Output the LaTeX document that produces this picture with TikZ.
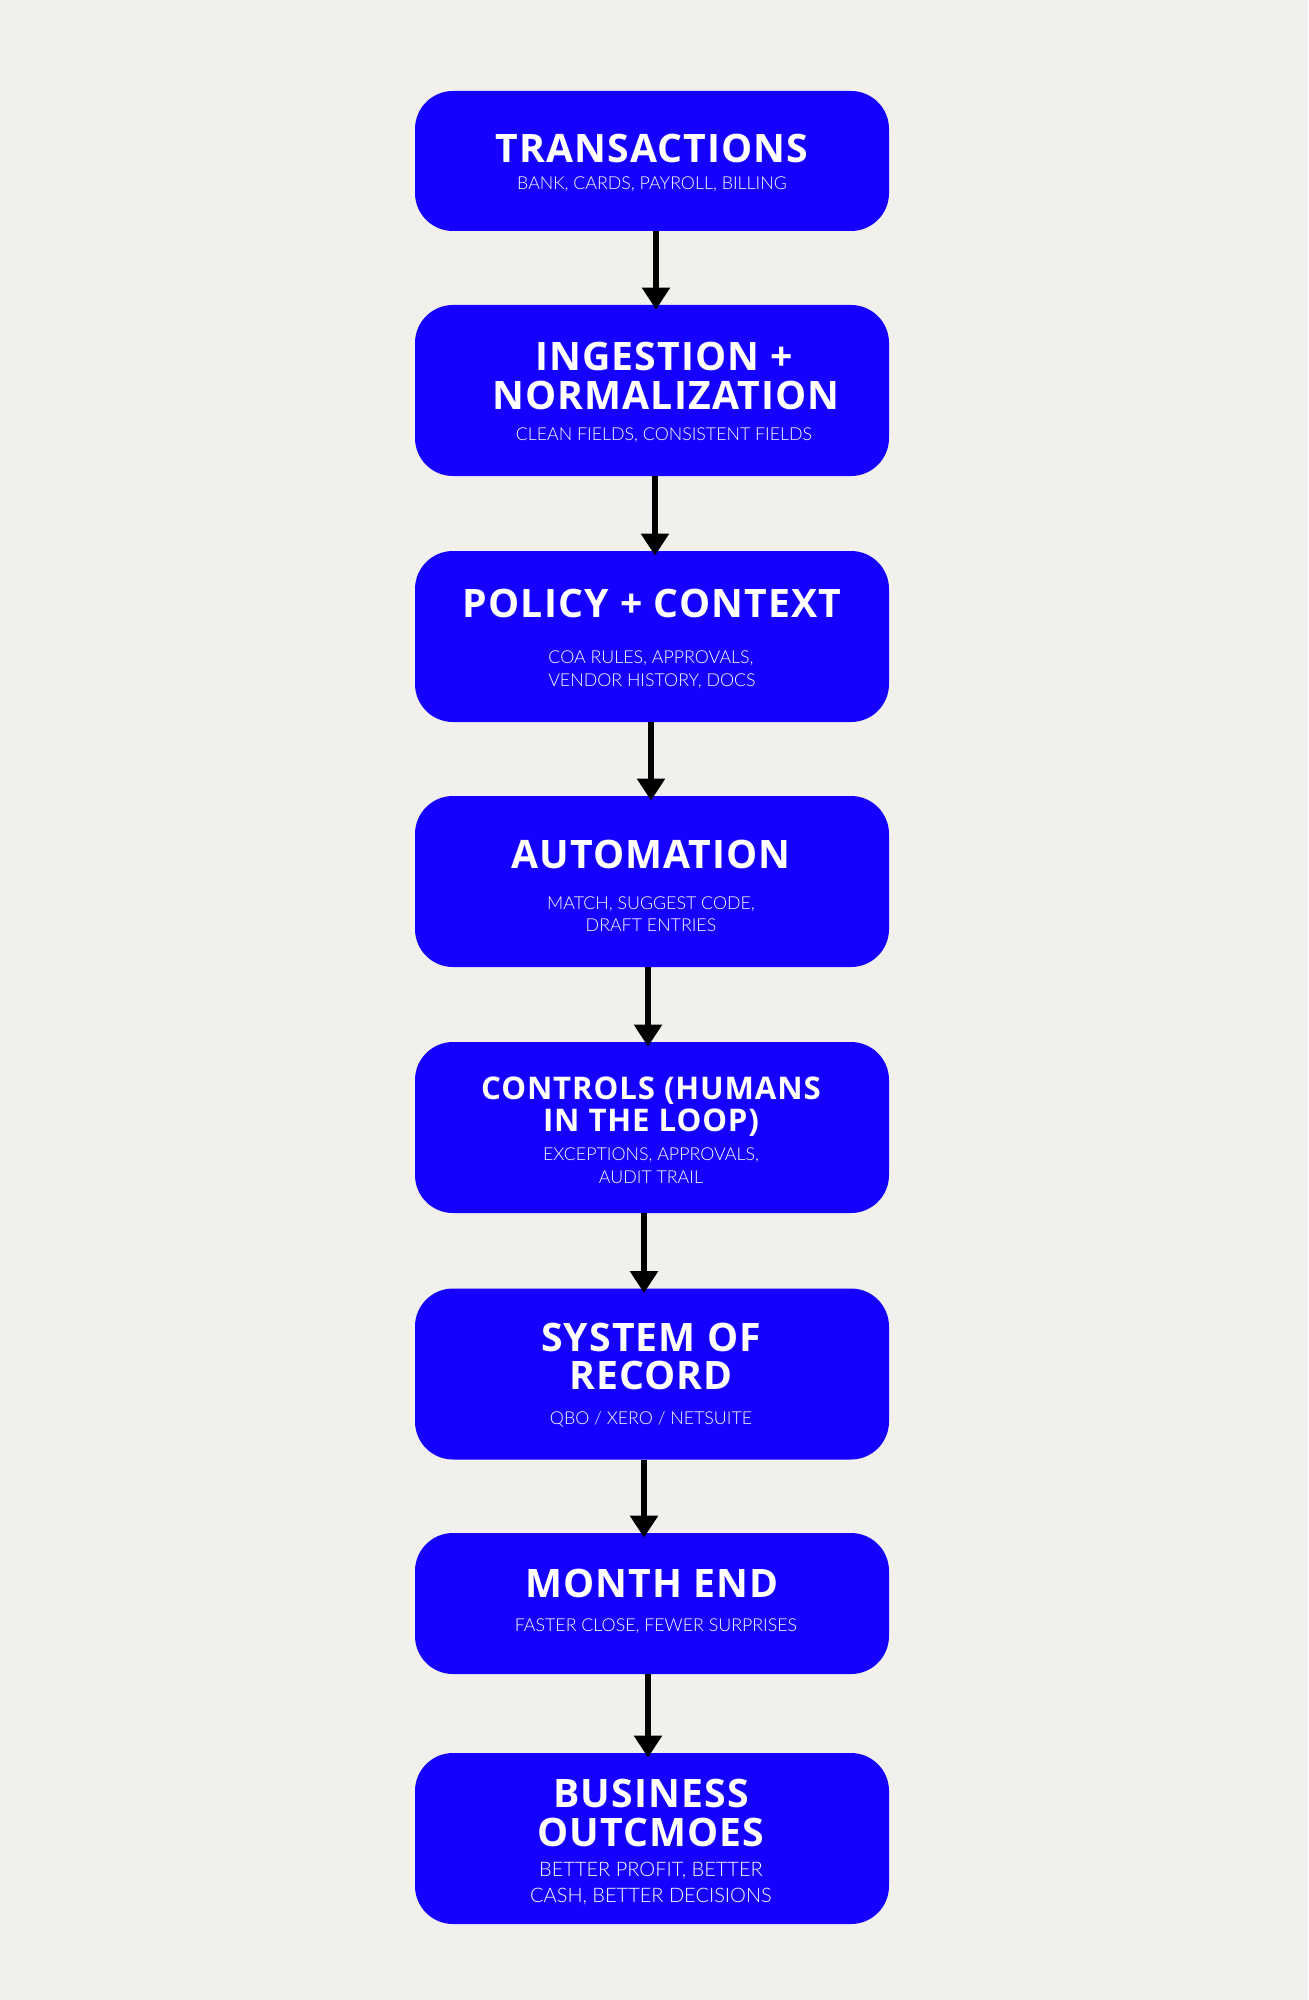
\documentclass[tikz,border=0pt]{standalone}
\usepackage{fontspec}
\usetikzlibrary{arrows.meta}
\newfontfamily\titlefont{Open Sans}[LetterSpace=2.8]
\newfontfamily\subfont{Lato Light}
\definecolor{bg}{HTML}{F1F0EC}
\definecolor{boxblue}{HTML}{1500FF}
\tikzset{
  stepbox/.style={draw=none, fill=boxblue, rounded corners=19pt, minimum width=237pt, inner sep=0pt, shape=rectangle},
  ttl/.style={anchor=base, inner sep=0pt, text=white, font=\titlefont\bfseries\fontsize{19.6}{20}\selectfont},
  ttlsm/.style={anchor=base, inner sep=0pt, text=white, font=\titlefont\bfseries\fontsize{15.6}{16}\selectfont},
  sub/.style={anchor=base, inner sep=0pt, text=white, font=\subfont\fontsize{8.9}{10}\selectfont},
  sublg/.style={anchor=base, inner sep=0pt, text=white, font=\subfont\fontsize{10}{11}\selectfont},
  arr/.style={line width=2.8pt, -{Triangle[width=13.5pt,length=11pt]}, shorten >=-2.5pt}
}
\begin{document}
\begin{tikzpicture}[x=0.5pt,y=-0.5pt]
\fill[bg] (0,0) rectangle (1308,2000);
\useasboundingbox (0,0) rectangle (1308,2000);
% boxes
\node[stepbox, minimum height=70pt]   (b1) at (652,161) {};
\node[stepbox, minimum height=85.5pt] (b2) at (652,390.5) {};
\node[stepbox, minimum height=85.5pt] (b3) at (652,636.5) {};
\node[stepbox, minimum height=85.5pt] (b4) at (652,881.5) {};
\node[stepbox, minimum height=85.5pt] (b5) at (652,1127.5) {};
\node[stepbox, minimum height=85.5pt] (b6) at (652,1374) {};
\node[stepbox, minimum height=70.5pt] (b7) at (652,1603.5) {};
\node[stepbox, minimum height=85.5pt] (b8) at (652,1838.5) {};
% texts
\node[ttl] (t1) at (652,163) {TRANSACTIONS};
\node[sub] (s1) at (652,190) {BANK, CARDS, PAYROLL, BILLING};
\node[ttl] (t2a) at (664,371) {INGESTION +};
\node[ttl] (t2b) at (666,410) {NORMALIZATION};
\node[sub] (s2) at (664,441) {CLEAN FIELDS, CONSISTENT FIELDS};
\node[ttl] (t3) at (652,617) {POLICY + CONTEXT};
\node[sub] (s3a) at (651,663) {COA RULES, APPROVALS,};
\node[sub] (s3b) at (652,686) {VENDOR HISTORY, DOCS};
\node[ttl] (t4) at (651,868) {AUTOMATION};
\node[sub] (s4a) at (651,909) {MATCH, SUGGEST CODE,};
\node[sub] (s4b) at (651,931) {DRAFT ENTRIES};
\node[ttlsm] (t5a) at (651,1099) {CONTROLS (HUMANS};
\node[ttlsm] (t5b) at (651,1131) {IN THE LOOP)};
\node[sub] (s5a) at (651,1160) {EXCEPTIONS, APPROVALS,};
\node[sub] (s5b) at (651,1183) {AUDIT TRAIL};
\node[ttl] (t6a) at (651,1351) {SYSTEM OF};
\node[ttl] (t6b) at (651,1389) {RECORD};
\node[sub] (s6) at (651,1424) {QBO / XERO / NETSUITE};
\node[ttl] (t7) at (652,1597) {MONTH END};
\node[sub] (s7) at (656,1631) {FASTER CLOSE, FEWER SURPRISES};
\node[ttl] (t8a) at (651,1807) {BUSINESS};
\node[ttl] (t8b) at (651,1846) {OUTCMOES};
\node[sublg] (s8a) at (651,1876) {BETTER PROFIT, BETTER};
\node[sublg] (s8b) at (651,1902) {CASH, BETTER DECISIONS};
% arrows
\draw[arr] ([xshift=2pt]b1.south) -- ([xshift=2pt]b2.north);
\draw[arr] ([xshift=1.5pt]b2.south) -- ([xshift=1.5pt]b3.north);
\draw[arr] ([xshift=-0.5pt]b3.south) -- ([xshift=-0.5pt]b4.north);
\draw[arr] ([xshift=-2pt]b4.south) -- ([xshift=-2pt]b5.north);
\draw[arr] ([xshift=-4pt]b5.south) -- ([xshift=-4pt]b6.north);
\draw[arr] ([xshift=-4pt]b6.south) -- ([xshift=-4pt]b7.north);
\draw[arr] ([xshift=-2pt]b7.south) -- ([xshift=-2pt]b8.north);
\end{tikzpicture}
\end{document}
